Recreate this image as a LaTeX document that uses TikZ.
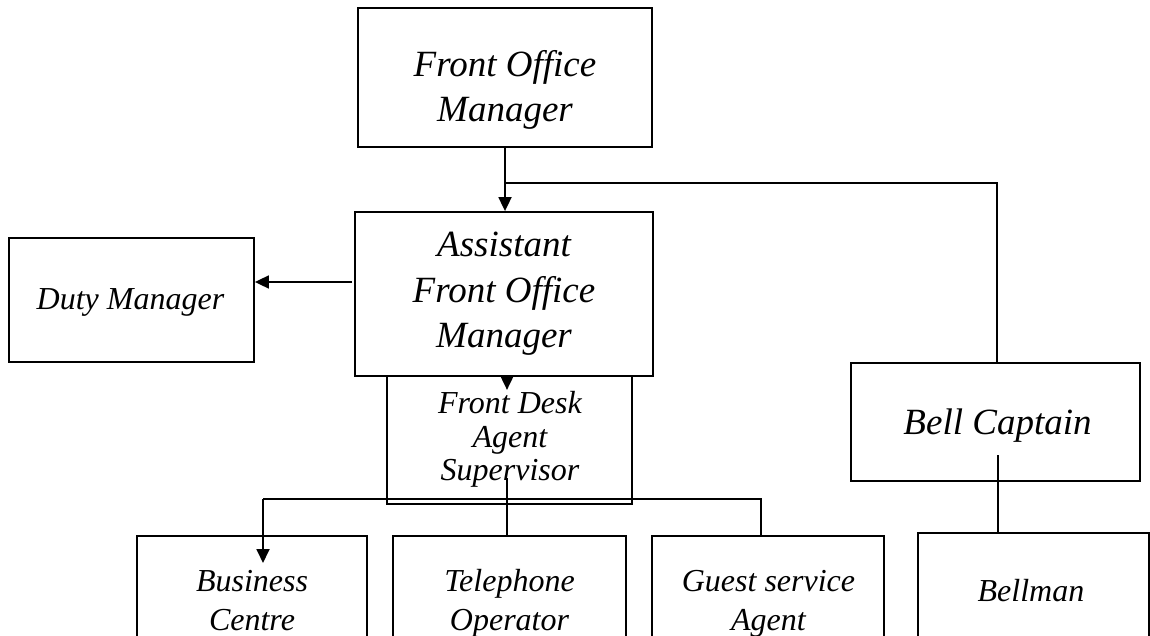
\documentclass[tikz,border=0pt]{standalone}
\usepackage{fontspec}
\setmainfont{Liberation Serif}
\usetikzlibrary{arrows.meta}
\begin{document}
\begin{tikzpicture}[x=1pt,y=-1pt,
  box/.style={draw=black,line width=1.8pt,rectangle,inner sep=0pt},
  big/.style={font=\fontsize{37}{43}\selectfont\itshape,anchor=base,inner sep=0pt},
  small/.style={font=\fontsize{32}{36}\selectfont\itshape,anchor=base,inner sep=0pt},
  conn/.style={line width=1.8pt},
  arr/.style={line width=1.8pt,-{Triangle[length=14pt,width=13pt]}}]
\useasboundingbox (0,0) rectangle (1150,636);
% boxes
\node[box,minimum width=294pt,minimum height=139pt] (fom) at (505,77.5) {};
\node[box,minimum width=298pt,minimum height=164pt] (afom) at (504,294) {};
\node[box,minimum width=245pt,minimum height=124pt] (duty) at (131.5,300) {};
\node[box,minimum width=245pt,minimum height=128pt] (fdas) at (509.5,440) {};
\node[box,minimum width=289pt,minimum height=118pt] (bell) at (995.5,422) {};
\node[box,minimum width=230pt,minimum height=160pt] (bus) at (252,616) {};
\node[box,minimum width=233pt,minimum height=160pt] (tel) at (509.5,616) {};
\node[box,minimum width=232pt,minimum height=160pt] (gsa) at (768,616) {};
\node[box,minimum width=231pt,minimum height=162pt] (bm) at (1033.5,614) {};
% texts (one node per line, placed on its baseline)
\node[big] (fomt1) at (505,77) {Front Office};
\node[big] (fomt2) at (505,122) {Manager};
\node[big] (afomt1) at (504,257) {Assistant};
\node[big] (afomt2) at (504,302) {Front Office};
\node[big] (afomt3) at (504,347) {Manager};
\node[small] (dutyt) at (130.5,309) {Duty Manager};
\node[small] (fdast1) at (510,413) {Front Desk};
\node[small] (fdast2) at (510,447) {Agent};
\node[small] (fdast3) at (510,480) {Supervisor};
\node[big] (bellt) at (997.5,434) {Bell Captain};
\node[small] (bust1) at (252,591) {Business};
\node[small] (bust2) at (252,630) {Centre};
\node[small] (telt1) at (509.5,591) {Telephone};
\node[small] (telt2) at (509.5,630) {Operator};
\node[small] (gsat1) at (768.5,591) {Guest service};
\node[small] (gsat2) at (768.5,630) {Agent};
\node[small] (bmt) at (1031,601) {Bellman};
% connectors
\coordinate (j1) at (505,183);
\draw[arr] (fom.south -| j1) -- (afom.north -| j1);
\coordinate (j2) at (997,183);
\draw[conn] (j1) -- (j2) -- (bell.north -| j2);
\coordinate (dstart) at (352,282);
\draw[arr] (dstart) -- (duty.east |- dstart);
\coordinate (tip) at (507,376);
\draw[arr] (afom.south -| tip) -- ++(0,13);
\coordinate (fv) at (507,478);
\draw[conn] (fv) -- (tel.north -| fv);
\coordinate (hl) at (263,499);
\coordinate (hr) at (761,499);
\draw[conn] (hl) -- (hr) -- (gsa.north -| hr);
\coordinate (hb) at (263,563);
\draw[arr] (hl) -- (hb);
\coordinate (bv) at (998,455);
\draw[conn] (bv) -- (bm.north -| bv);
\end{tikzpicture}
\end{document}
